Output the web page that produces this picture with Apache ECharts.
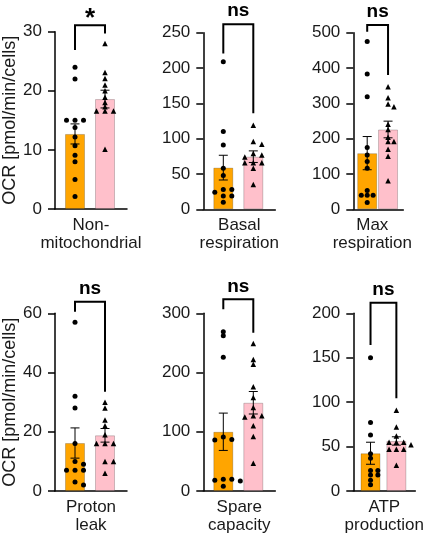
<!DOCTYPE html>
<html>
<head>
<meta charset="utf-8">
<script src="https://cdn.jsdelivr.net/npm/echarts@6/dist/echarts.min.js"></script>
<style>
  html, body { margin: 0; padding: 0; background: #fff; }
  #chart { width: 426px; height: 540px; }
</style>
</head>
<body>
<div id="chart"></div>
<script>
const FONT = "Liberation Sans, Arial, sans-serif";
const ORANGE = "#FFA500";
const PINK = "#FFC0CB";

// panels, left to right, top row then bottom row
const panelLabels = ["Non-\nmitochondrial", "Basal\nrespiration", "Max\nrespiration",
  "Proton\nleak", "Spare\ncapacity", "ATP\nproduction"];
const yMax = [30, 250, 500, 60, 300, 200];
const yInterval = [10, 50, 100, 20, 100, 50];

const orangeMeans = [12.7, 59, 159, 16.2, 100, 42.5];
const orangeSem = [1.7, 17.5, 47, 5.1, 31.5, 12.4];
const pinkMeans = [18.6, 74.5, 226, 18.8, 149, 56.3];
const pinkSem = [1.5, 8.2, 23.6, 2.3, 19, 4.7];

const nonMitoOrange = [24, 22, 15, 15, 15, 13.8, 12.2, 10.7, 9.1, 8, 5, 2.1];
const nonMitoPink = [28, 23.1, 22.1, 21, 20, 18.9, 18, 17.3, 16.6, 16.6, 16.6, 10.1];
const basalOrange = [209, 110, 91, 58, 48, 28, 28, 24, 19, 19, 10];
const basalPink = [119, 96, 92, 79, 77, 74, 66, 66, 66, 58, 35];
const maxOrange = [475, 383, 319, 175, 154, 135, 116, 53, 40, 40, 40, 19];
const maxPink = [347, 316, 298, 290, 241, 226, 204, 192, 192, 170, 150, 81];
const protonOrange = [57, 32, 28, 16, 10, 9, 7, 7, 7, 3, 2];
const protonPink = [30, 28, 24, 22, 19, 16, 16, 16, 10, 10, 6];
const spareOrange = [269, 262, 226, 91, 87, 86, 20, 20, 18, 17, 8];
const sparePink = [249, 222, 214, 176, 158, 141, 127, 127, 125, 110, 92, 47];
const atpOrange = [150, 77, 63, 42, 37, 23, 23, 18, 18, 12, 7];
const atpPink = [91, 72, 62, 55, 55, 55, 52, 47, 47, 47, 29];

const orangePoints = [nonMitoOrange, basalOrange, maxOrange, protonOrange, spareOrange, atpOrange];
const pinkPoints = [nonMitoPink, basalPink, maxPink, protonPink, sparePink, atpPink];

const significance = ["*", "ns", "ns", "ns", "ns", "ns"];
const bracketTop = [31.1, 262, 521.5, 63.9, 323.6, 212];
const bracketLeftEnd = [26.9, 220.7, 502.5, 60.5, 306.8, 164.3];
const bracketRightEnd = [29.7, 135.8, 380, 33.5, 267, 104.3];

const grids = [
  { left: 55, top: 31.7, width: 72, height: 177.3 },
  { left: 203.3, top: 32.7, width: 72, height: 176.6 },
  { left: 353.3, top: 32.7, width: 72, height: 176.6 },
  { left: 55, top: 313.3, width: 72, height: 177.7 },
  { left: 203.3, top: 313.3, width: 72, height: 177.7 },
  { left: 353.3, top: 313.3, width: 72, height: 177.7 },
];

const X_UNIT_PX = 30; // distance between the two bar centres
const JITTER_PX = 8.5;
const MIN_DIST_PX = 4;

// spread overlapping points sideways, like a column scatter
function swarm(values, center, pxPerUnit) {
  const placed = [];
  const order = [0, 1, -1, 2, -2, 3, -3];
  return values.map((v) => {
    const py = v * pxPerUnit;
    let dx = 0;
    for (const k of order) {
      const cand = k * JITTER_PX;
      const hit = placed.some((p) => Math.hypot(p[0] - cand, p[1] - py) < MIN_DIST_PX);
      if (!hit) {
        dx = cand;
        break;
      }
    }
    placed.push([dx, py]);
    return [center + dx / X_UNIT_PX, v];
  });
}

function renderErrorBar(params, api) {
  const x = api.value(0);
  const m = api.value(1);
  const s = api.value(2);
  const hi = api.coord([x, m + s]);
  const lo = api.coord([x, m - s]);
  const cap = 4.5;
  const style = { stroke: "#000", lineWidth: 1 };
  return {
    type: "group",
    children: [
      { type: "line", shape: { x1: hi[0], y1: hi[1], x2: lo[0], y2: lo[1] }, style },
      { type: "line", shape: { x1: hi[0] - cap, y1: hi[1], x2: hi[0] + cap, y2: hi[1] }, style },
      { type: "line", shape: { x1: lo[0] - cap, y1: lo[1], x2: lo[0] + cap, y2: lo[1] }, style },
    ],
  };
}

function makeBracketRenderer(label) {
  return function (params, api) {
    const top = api.value(0);
    const p1 = api.coord([0, api.value(1)]);
    const p2 = api.coord([0, top]);
    const p3 = api.coord([1, top]);
    const p4 = api.coord([1, api.value(2)]);
    const star = label === "*";
    return {
      type: "group",
      children: [
        {
          type: "polyline",
          shape: { points: [p1, p2, p3, p4] },
          style: { stroke: "#000", lineWidth: 2, fill: null },
        },
        {
          type: "text",
          x: (p2[0] + p3[0]) / 2,
          y: p2[1] - (star ? 6 : 13),
          style: {
            text: label,
            font: `bold ${star ? 26 : 19}px ${FONT}`,
            fill: "#000",
            align: "center",
            verticalAlign: "middle",
          },
        },
      ],
    };
  };
}

const chart = echarts.init(document.getElementById("chart"), null, { renderer: "canvas" });

const option = {
  animation: false,
  backgroundColor: "#fff",
  grid: [],
  xAxis: [],
  yAxis: [],
  series: [],
};

grids.forEach((g, i) => {
  option.grid.push(g);
  option.xAxis.push({
    gridIndex: i,
    type: "value",
    min: -20 / X_UNIT_PX,
    max: 52 / X_UNIT_PX,
    axisLine: { show: true, onZero: false, lineStyle: { color: "#000", width: 1.5 } },
    axisTick: { show: false },
    axisLabel: { show: false },
    splitLine: { show: false },
    name: panelLabels[i],
    nameLocation: "middle",
    nameGap: 7,
    nameTextStyle: {
      fontFamily: FONT,
      fontSize: 17,
      lineHeight: 18,
      color: "#1a1a1a",
      verticalAlign: "top",
      padding: i === 2 ? [0, 12, 0, 0] : 0,
    },
  });
  option.yAxis.push({
    gridIndex: i,
    type: "value",
    min: 0,
    max: yMax[i],
    interval: yInterval[i],
    axisLine: { show: true, onZero: false, lineStyle: { color: "#000", width: 1.5 } },
    axisTick: { show: true, length: 7, lineStyle: { color: "#000", width: 1.5 } },
    axisLabel: { fontFamily: FONT, fontSize: 17, color: "#1a1a1a", margin: 13 },
    splitLine: { show: false },
    name: i % 3 === 0 ? "OCR [pmol/min/cells]" : "",
    nameLocation: "middle",
    nameGap: 32,
    nameTextStyle: { fontFamily: FONT, fontSize: 18, color: "#1a1a1a" },
  });

  const pxPerUnit = g.height / yMax[i];

  option.series.push({
    type: "bar",
    xAxisIndex: i,
    yAxisIndex: i,
    barWidth: 20,
    itemStyle: { borderColor: "rgba(0,0,0,0.2)", borderWidth: 1 },
    data: [
      { value: [0, orangeMeans[i]], itemStyle: { color: ORANGE } },
      { value: [1, pinkMeans[i]], itemStyle: { color: PINK } },
    ],
    z: 1,
  });
  option.series.push({
    type: "custom",
    xAxisIndex: i,
    yAxisIndex: i,
    renderItem: renderErrorBar,
    data: [[0, orangeMeans[i], orangeSem[i]], [1, pinkMeans[i], pinkSem[i]]],
    z: 3,
  });
  option.series.push({
    type: "scatter",
    xAxisIndex: i,
    yAxisIndex: i,
    symbol: "circle",
    symbolSize: 5,
    itemStyle: { color: "#000", opacity: 1 },
    data: swarm(orangePoints[i], 0, pxPerUnit),
    z: 4,
  });
  option.series.push({
    type: "scatter",
    xAxisIndex: i,
    yAxisIndex: i,
    symbol: "triangle",
    symbolSize: 5.5,
    itemStyle: { color: "#000", opacity: 1 },
    data: swarm(pinkPoints[i], 1, pxPerUnit),
    z: 4,
  });
  option.series.push({
    type: "custom",
    xAxisIndex: i,
    yAxisIndex: i,
    clip: false,
    renderItem: makeBracketRenderer(significance[i]),
    encode: { x: -1, y: -1 },
    data: [[bracketTop[i], bracketLeftEnd[i], bracketRightEnd[i]]],
    z: 5,
  });
});

chart.setOption(option);
</script>
</body>
</html>
